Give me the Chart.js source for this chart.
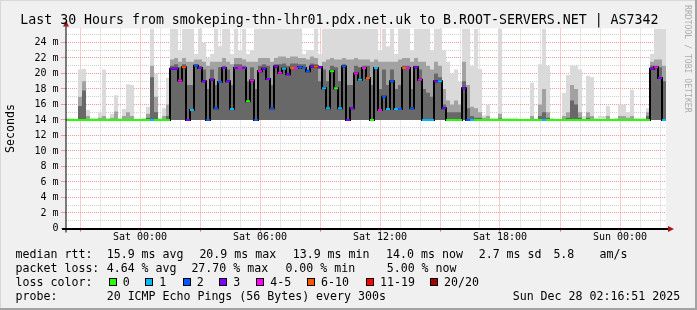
<!DOCTYPE html>
<html><head><meta charset="utf-8">
<script src="https://cdn.jsdelivr.net/npm/chart.js@4.4.1/dist/chart.umd.min.js"></script>
<style>
html,body{margin:0;padding:0;background:#f0f0f0}
#wrap{position:relative;width:697px;height:310px;overflow:hidden;background:#f0f0f0;box-shadow:inset -2px -2px 0 #a3a3a3, inset 1px 1px 0 #d8d8d8;font-family:"DejaVu Sans Mono",monospace;color:#000}
#c{position:absolute;left:0;top:0}
.t{position:absolute;white-space:pre;line-height:1;font-size:11.6px}
#title{position:absolute;white-space:pre;line-height:1;font-size:13.25px;left:20.3px;top:12.8px}
.sq{position:absolute;width:8px;height:8px;box-sizing:border-box;border:1px solid #000}
#rrd{position:absolute;left:684px;top:5px;writing-mode:vertical-rl;font-size:8.15px;color:#acacac;line-height:1;white-space:pre}
</style></head>
<body>
<div id="wrap">
<canvas id="c" width="697" height="310"></canvas>
<div id="title">Last 30 Hours from smokeping-thn-lhr01.pdx.net.uk to B.ROOT-SERVERS.NET | AS7342</div>
<div id="rrd">RRDTOOL / TOBI OETIKER</div>
<div id="legend"></div>
</div>
<script>
// ---------------- data ----------------
const lossLabels = ['0','1','2','3','4-5','6-10','11-19','20/20'];
const lossColors = ['#26ff00','#00b8ff','#0059ff','#7e00ff','#ff00ff','#ff5500','#ff0000','#a10000'];

// one column = 12 minutes, 150 columns = 30 hours
const stepHours = 0.2;
const spanHours = 30;

// median RTT (ms) per column
const medianRtt = [
 14,14,14,14,14,14,14,14,14,14,            // 0-9
 14,14,14,14,14,14,14,14,14,14,            // 10-19
 14,14,14,14,14,14,20.6,20.6,19.1,20.8,    // 20-29
 14,15.3,21.0,20.7,19.0,14,19.2,15.5,18.9,20.7, // 30-39
 19.0,15.4,20.7,20.7,20.7,16.4,19.1,14,20.3,20.6, // 40-49
 19.3,15.5,20.9,20.1,20.6,19.9,20.7,20.7,20.8,20.7, // 50-59
 20.3,20.9,20.9,20.8,18.1,15.5,20.3,18.1,15.5,20.9, // 60-69
 14,15.5,20.0,19.2,20.7,19.4,14,20.7,15.3,17.0,     // 70-79
 15.4,19.0,15.4,15.4,20.7,20.7,15.5,20.8,19.2,14,   // 80-89
 14,14,19.0,19.0,15.5,14,14,14,14,18.1,             // 90-99
 14,14,14,14,14,14,14,14,14,14,            // 100-109
 14,14,14,14,14,14,14,14,14,14,            // 110-119
 14,14,14,14,14,14,14,14,14,14,            // 120-129
 14,14,14,14,14,14,14,14,14,14,            // 130-139
 14,14,14,14,14,14,20.6,20.8,19.4,14       // 140-149
];

// loss class per column (index into lossLabels)
const lossClass = [
 0,0,0,0,0,0,0,0,0,0,
 0,0,0,0,0,0,0,0,0,0,
 0,1,0,0,0,0,3,3,4,5,
 3,1,2,3,3,2,3,2,2,3,
 3,1,3,4,3,0,4,2,4,3,
 3,2,3,4,1,3,5,4,2,2,
 2,3,5,3,1,1,0,0,1,2,
 3,3,4,1,4,5,0,1,4,2,
 1,2,1,2,5,4,2,3,4,1,
 1,1,3,1,3,0,0,0,0,3,
 2,1,0,0,0,0,0,0,0,0,
 0,0,0,0,0,0,0,0,0,1,
 0,0,0,0,0,0,0,0,0,0,
 0,0,0,0,0,0,0,0,0,0,
 0,0,0,0,0,0,3,4,3,1
];

// smoke: highest ping per column (ms)
const smokeMax = [
 14.3,14.2,14,20.5,20.6,15.3,14.3,14.3,15,20.5,
 14.3,14.8,17.2,14.3,15.4,18.6,18.5,14,14,14.3,
 15.7,25.8,20.0,14.3,15.5,19.4,25.8,25.8,23.0,25.8,
 25.8,25.8,22.5,25.8,24.0,22.0,22.5,25.8,23.5,25.8,
 25.8,22.5,25.8,23.0,25.8,22.5,23.0,25.8,25.8,25.8,
 25.8,25.8,25.8,25.8,25.8,25.8,25.8,25.8,25.8,22.5,
 23.0,23.0,25.8,22.5,25.8,25.8,25.8,25.8,25.8,25.8,
 25.8,25.8,25.8,25.8,25.8,25.8,25.8,25.8,23.0,25.8,
 23.5,25.8,22.5,25.8,25.8,25.8,23.0,25.8,25.8,25.8,
 25.8,23.0,25.8,25.8,23.0,21.5,20.0,20.5,19.0,25.8,
 25.8,21.0,25.8,20.6,14.6,16.0,14.3,14.3,25.8,14.3,
 14.3,14.3,14.3,14,14,14,18.8,14,21.2,25.8,
 21.0,14.3,14,14,17.5,19.8,21.0,21.0,20.5,14.5,
 19.7,19.5,14.3,14.5,14.5,15.8,14,14.3,16.0,16.0,
 15.0,17.9,14.3,14.3,14.3,15.5,22.5,25.8,25.8,25.8
];

// smoke: upper-middle ping band per column (ms)
const smokeMid = [
 14,14,14,17.0,19.0,14.5,14,14,14.3,14.5,
 14,14.3,15.1,14,14.5,15,14.5,14,14,14,
 14.8,21.0,17.0,14,14.5,16,21.8,22.0,21.5,22.0,
 21.5,21.5,21.8,21.8,21.5,21.0,21.5,21.5,21.5,22.0,
 21.5,21.2,22.0,22.0,21.8,21.5,21.5,21.5,22.0,22.0,
 22.0,21.5,22.0,22.2,22.2,22.0,22.2,22.2,22.0,22.0,
 21.8,22.2,22.0,21.0,21.5,21.8,22.0,21.8,21.8,22.0,
 21.8,21.8,22.0,21.8,21.8,21.8,21.5,21.8,21.5,21.5,
 21.5,21.5,21.5,21.8,22.0,22.0,21.5,22.0,21.5,21.5,
 21.0,20.5,21.5,21.0,18.0,16.5,16.0,16.5,16.0,21.5,
 18.5,15.7,15.5,15.0,14.3,14.5,14,14,14.8,14,
 14,14,14,14,14,14,14.5,14,16.0,18.0,
 15.0,14,14,14,14.5,15.0,18.5,18.0,15.0,14,
 15.0,14.5,14,14,14,14.5,14,14,14.5,14.5,
 14.3,14.5,14,14,14,15.0,21.5,21.8,21.8,21.0
];

// smoke: dense core band per column (ms)
const smokeDark = [
 14,14,14,15.8,17.8,14,14,14,14,14,
 14,14,14,14,14,14,14,14,14,14,
 14.3,19.5,15.0,14,14,14.5,21.0,21.2,20.8,21.2,
 18.5,18.5,21.2,21.0,20.5,18.0,20.5,18.5,20.8,21.0,
 20.5,18.5,21.2,21.2,21.0,19.0,20.8,18.0,21.0,21.2,
 21.0,18.5,21.2,21.2,21.3,21.0,21.3,21.3,21.2,21.2,
 20.5,21.3,21.2,19.0,20.5,19.0,21.0,20.8,19.0,21.2,
 18.5,18.5,21.0,20.8,21.0,21.0,18.5,20.8,18.0,20.5,
 18.5,20.5,18.0,18.5,21.0,21.0,18.0,21.0,20.5,18.0,
 17.5,17.0,20.0,19.5,16.0,15.0,15.0,15.0,15.0,19.0,
 15.5,14.5,14.3,14.3,14,14,14,14,14.2,14,
 14,14,14,14,14,14,14,14,14.5,15.0,
 14.3,14,14,14,14,14.3,16.5,16.0,14.3,14,
 14.3,14,14,14,14,14,14,14,14,14,
 14,14,14,14,14,14.5,21.0,21.0,20.8,19.0
];

// axes
const hourTicks = [0.7,1.7,2.7,3.7,4.7,5.7,6.7,7.7,8.7,9.7,10.7,11.7,12.7,13.7,14.7,15.7,16.7,17.7,18.7,19.7,20.7,21.7,22.7,23.7,24.7,25.7,26.7,27.7,28.7,29.7];
const hourOfDay = [21,22,23,0,1,2,3,4,5,6,7,8,9,10,11,12,13,14,15,16,17,18,19,20,21,22,23,0,1,2];
const xLabelHours = [3.7,9.7,15.7,21.7,27.7];
const xTickLabels = ['Sat 00:00','Sat 06:00','Sat 12:00','Sat 18:00','Sun 00:00'];
const yTickValues = [0,1,2,3,4,5,6,7,8,9,10,11,12,13,14,15,16,17,18,19,20,21,22,23,24,25];
const yMax = 25.8;

// ---------------- legend (html text) ----------------
const MONO = '"DejaVu Sans Mono", monospace';
const legend = document.getElementById('legend');
function txt(s, left, top){ const d=document.createElement('div'); d.className='t'; d.textContent=s; d.style.left=left+'px'; d.style.top=top+'px'; legend.appendChild(d); }
const rowTop = [248.6, 262.6, 276.6, 290.6];
txt('median rtt:', 15.6, rowTop[0]);
txt('15.9 ms avg', 106.7, rowTop[0]);
txt('20.9 ms max', 199.4, rowTop[0]);
txt('13.9 ms min', 292.7, rowTop[0]);
txt('14.0 ms now', 386.1, rowTop[0]);
txt('2.7 ms sd', 478.7, rowTop[0]);
txt('5.8', 553.4, rowTop[0]);
txt('am/s', 599.6, rowTop[0]);
txt('packet loss:', 15.6, rowTop[1]);
txt('4.64 % avg', 106.7, rowTop[1]);
txt('27.70 % max', 191.4, rowTop[1]);
txt('0.00 % min', 285.4, rowTop[1]);
txt('5.00 % now', 386.7, rowTop[1]);
txt('loss color:', 15.6, rowTop[2]);
const sqLeft = [108.7,145.3,182.7,219.3,256.3,307,366,430];
lossLabels.forEach((lab, k) => {
  const s = document.createElement('div'); s.className='sq';
  s.style.left = sqLeft[k]+'px'; s.style.top='278.3px'; s.style.background = lossColors[k];
  legend.appendChild(s);
  txt(lab, sqLeft[k]+14, rowTop[2]);
});
txt('probe:', 15.6, rowTop[3]);
txt('20 ICMP Echo Pings (56 Bytes) every 300s', 106.7, rowTop[3]);
txt('Sun Dec 28 02:16:51 2025', 512.7, rowTop[3]);

// ---------------- chart ----------------
const MAJ = '#f29a9a';
const MIN = '#cfcfcf';
function stepPts(arr){ const d = arr.map((v,i)=>({x:i*stepHours, y:v})); d.push({x:spanHours, y:arr[arr.length-1]}); return d; }
const dashPts = medianRtt.map((v,i)=>({x:i*stepHours+stepHours/2, y:v}));

const plotPlugin = {
  id:'plotFrame',
  beforeDraw(chart){
    const {ctx, chartArea:a} = chart;
    ctx.save(); ctx.fillStyle='#ffffff'; ctx.fillRect(a.left, a.top, a.right-a.left, a.bottom-a.top); ctx.restore();
  },
  afterDraw(chart){
    const {ctx, chartArea:a} = chart;
    ctx.save();
    ctx.strokeStyle='#000'; ctx.lineWidth=1;
    ctx.beginPath(); ctx.moveTo(a.left, a.bottom+4); ctx.lineTo(a.left, a.top-5); ctx.stroke();
    ctx.lineWidth=2;
    ctx.beginPath(); ctx.moveTo(a.left-4, a.bottom+0.5); ctx.lineTo(a.right+4, a.bottom+0.5); ctx.stroke();
    ctx.fillStyle='#a01818';
    ctx.beginPath(); ctx.moveTo(a.right+8, a.bottom+0.5); ctx.lineTo(a.right+2, a.bottom-2.5); ctx.lineTo(a.right+2, a.bottom+3.5); ctx.closePath(); ctx.fill();
    ctx.beginPath(); ctx.moveTo(a.left, a.top-8); ctx.lineTo(a.left-3, a.top-2); ctx.lineTo(a.left+3, a.top-2); ctx.closePath(); ctx.fill();
    ctx.restore();
  }
};

new Chart(document.getElementById('c'), {
  type:'line',
  data:{ datasets:[
    { label:'loss', data:dashPts, showLine:false, order:0, pointStyle:'line', pointRadius:2, pointHoverRadius:2, pointBorderWidth:2,
      pointBorderColor: lossClass.map(k=>lossColors[k]), pointBackgroundColor: lossClass.map(k=>lossColors[k]) },
    { label:'median', data:stepPts(medianRtt), stepped:true, order:1, borderColor:'#000', borderWidth:2, pointRadius:0, fill:false },
    { label:'smokeDark', data:stepPts(smokeDark), stepped:true, order:2, borderColor:'rgba(0,0,0,0)', borderWidth:0, pointRadius:0, fill:{value:14}, backgroundColor:'#686868' },
    { label:'smokeMid', data:stepPts(smokeMid), stepped:true, order:3, borderColor:'rgba(0,0,0,0)', borderWidth:0, pointRadius:0, fill:{value:14}, backgroundColor:'#a2a2a2' },
    { label:'smokeMax', data:stepPts(smokeMax), stepped:true, order:4, borderColor:'rgba(0,0,0,0)', borderWidth:0, pointRadius:0, fill:{value:14}, backgroundColor:'#dadada' }
  ]},
  options:{
    responsive:false, animation:false, events:[],
    layout:{ padding:{left:0, top:28.5, right:31, bottom:0}, autoPadding:false },
    plugins:{ legend:{display:false}, title:{display:false}, tooltip:{enabled:false} },
    scales:{
      x:{
        type:'linear', min:0, max:spanHours,
        afterBuildTicks: ax => { ax.ticks = hourTicks.map(v=>({value:v})); },
        afterFit: ax => { ax.height = 81.5; },
        ticks:{ autoSkip:false, maxRotation:0, minRotation:0, padding:0, color:'#000',
          font:{family:MONO, size:10},
          callback:(v)=>{ const j = xLabelHours.findIndex(h=>Math.abs(h-v)<1e-6); return j>=0 ? xTickLabels[j] : ''; } },
        grid:{ lineWidth:1, tickLength:3,
          color: c => { const j = hourTicks.findIndex(h=>Math.abs(h-c.tick.value)<1e-6); return (j>=0 && hourOfDay[j]%3===0) ? MAJ : MIN; },
          tickColor: c => { const j = hourTicks.findIndex(h=>Math.abs(h-c.tick.value)<1e-6); return (j>=0 && hourOfDay[j]%3===0) ? '#e06060' : 'rgba(0,0,0,0)'; } },
        border:{ display:false, dash:[1,1] }
      },
      y:{
        type:'linear', min:0, max:yMax,
        afterBuildTicks: ax => { ax.ticks = yTickValues.map(v=>({value:v})); },
        afterFit: ax => { ax.width = 66; },
        ticks:{ autoSkip:false, padding:2.5, color:'#000', font:{family:MONO, size:10},
          callback: v => (v%2===0 ? (v===0 ? '0' : v+' m') : '') },
        grid:{ lineWidth:1, tickLength:5,
          color: c => (c.tick.value%2===0 ? MAJ : MIN),
          tickColor: c => (c.tick.value%2===0 ? MAJ : 'rgba(0,0,0,0)') },
        border:{ display:false, dash:[1,1] },
        title:{ display:true, text:'Seconds', color:'#000', font:{family:MONO, size:11.6}, padding:{top:3.6, bottom:0} }
      }
    }
  },
  plugins:[plotPlugin]
});
</script>
</body></html>
